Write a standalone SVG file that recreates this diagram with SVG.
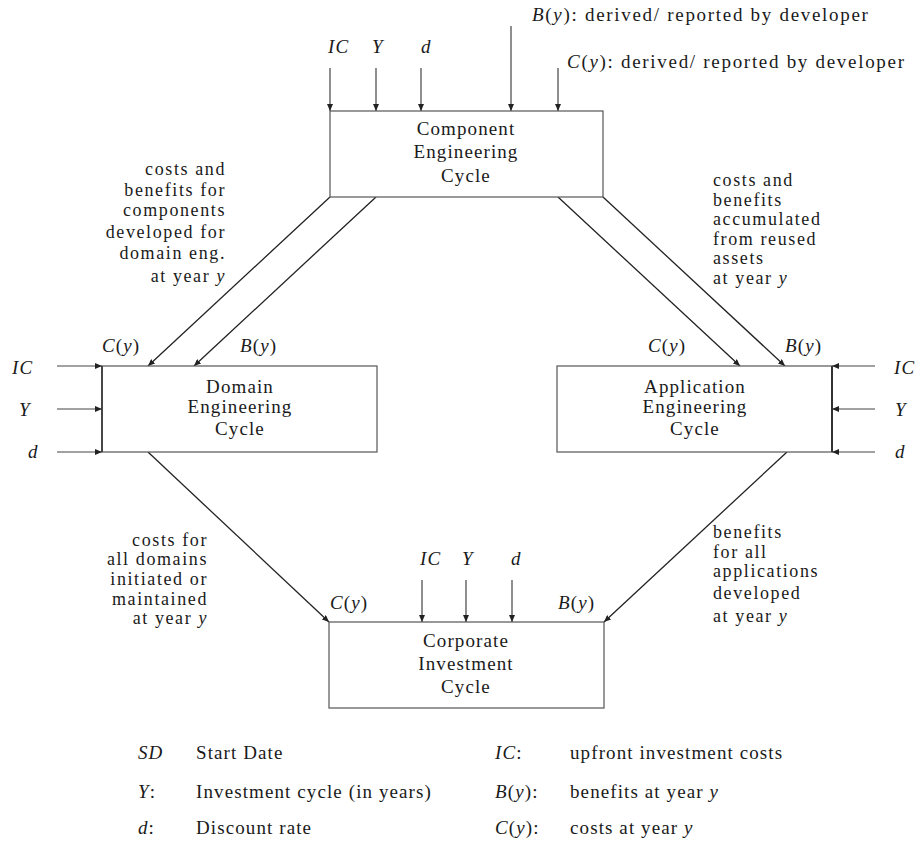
<svg xmlns="http://www.w3.org/2000/svg" width="922" height="841" viewBox="0 0 922 841">
  <defs>
    <marker id="arr" viewBox="0 0 7 6" refX="7" refY="3" markerWidth="7" markerHeight="6" markerUnits="userSpaceOnUse" orient="auto">
      <path d="M0,0 L7,3 L0,6 z" fill="#222"/>
    </marker>
    <style>
      text { font-family: "Liberation Serif", "Times New Roman", serif; font-size: 19px; letter-spacing: 1.1px; fill: #1a1a1a; }
      .n { font-size: 18px; letter-spacing: 1.6px; }
      .w { letter-spacing: 1.7px; }
      .m { font-style: italic; }
      .c { text-anchor: middle; }
      .e { text-anchor: end; }
      .box { fill: #fff; stroke: #555; stroke-width: 1.2; }
      .ln { stroke: #222; stroke-width: 1.3; fill: none; marker-end: url(#arr); }
      .in { stroke: #444; stroke-width: 1.2; fill: none; marker-end: url(#arr); }
    </style>
  </defs>

  <!-- connectors -->
  <g id="connectors">
    <!-- component cycle to domain / application cycles -->
    <line class="ln" x1="330" y1="197" x2="148" y2="366"/>
    <line class="ln" x1="376" y1="197" x2="194" y2="366"/>
    <line class="ln" x1="558" y1="197" x2="740" y2="366"/>
    <line class="ln" x1="603" y1="197" x2="785" y2="366"/>
    <!-- domain / application cycles to corporate cycle -->
    <line class="ln" x1="148" y1="452" x2="329" y2="622"/>
    <line class="ln" x1="787" y1="452" x2="604" y2="622"/>
    <!-- inputs of component cycle -->
    <line class="in" x1="330" y1="68" x2="330" y2="111"/>
    <line class="in" x1="376" y1="68" x2="376" y2="111"/>
    <line class="in" x1="421" y1="68" x2="421" y2="111"/>
    <line class="in" x1="511" y1="26" x2="511" y2="111"/>
    <line class="in" x1="558" y1="68" x2="558" y2="111"/>
    <!-- inputs of domain cycle -->
    <line class="in" x1="57" y1="366" x2="102" y2="366"/>
    <line class="in" x1="57" y1="409" x2="102" y2="409"/>
    <line class="in" x1="57" y1="452" x2="102" y2="452"/>
    <!-- inputs of application cycle -->
    <line class="in" x1="875" y1="366" x2="832" y2="366"/>
    <line class="in" x1="875" y1="409" x2="832" y2="409"/>
    <line class="in" x1="875" y1="452" x2="832" y2="452"/>
    <!-- inputs of corporate cycle -->
    <line class="in" x1="422" y1="580" x2="422" y2="622"/>
    <line class="in" x1="466" y1="580" x2="466" y2="622"/>
    <line class="in" x1="512" y1="580" x2="512" y2="622"/>
  </g>

  <!-- nodes -->
  <g id="component">
    <rect class="box" x="330" y="111" width="273" height="86"/>
    <text class="c" x="466" y="135">Component</text>
    <text class="c" x="466" y="158">Engineering</text>
    <text class="c" x="466" y="182">Cycle</text>
  </g>

  <g id="domain">
    <rect class="box" x="102" y="366" width="275" height="86"/>
    <line x1="102" y1="366" x2="102" y2="452" stroke="#333" stroke-width="1.6"/>
    <text class="c" x="240" y="393">Domain</text>
    <text class="c" x="240" y="413">Engineering</text>
    <text class="c" x="240" y="435">Cycle</text>
  </g>

  <g id="application">
    <rect class="box" x="557" y="366" width="275" height="86"/>
    <line x1="832" y1="366" x2="832" y2="452" stroke="#333" stroke-width="2"/>
    <text class="c" x="695" y="393">Application</text>
    <text class="c" x="695" y="413">Engineering</text>
    <text class="c" x="695" y="435">Cycle</text>
  </g>

  <g id="corporate">
    <rect class="box" x="329" y="622" width="275" height="86"/>
    <text class="c" x="466" y="647">Corporate</text>
    <text class="c" x="466" y="670">Investment</text>
    <text class="c" x="466" y="693">Cycle</text>
  </g>

  <!-- input labels, component cycle -->
  <g id="labels-component">
    <text class="m" x="328" y="53">IC</text>
    <text class="m" x="372" y="53">Y</text>
    <text class="m" x="421" y="53">d</text>
    <text class="w" x="532" y="21"><tspan class="m">B</tspan>(<tspan class="m">y</tspan>): derived/ reported by developer</text>
    <text class="w" x="567" y="68"><tspan class="m">C</tspan>(<tspan class="m">y</tspan>): derived/ reported by developer</text>
  </g>

  <!-- flow descriptions -->
  <g id="notes">
    <text class="n e" x="226" y="175">costs and</text>
    <text class="n e" x="226" y="196">benefits for</text>
    <text class="n e" x="226" y="216">components</text>
    <text class="n e" x="226" y="238">developed for</text>
    <text class="n e" x="226" y="259">domain eng.</text>
    <text class="n e" x="226" y="282">at year <tspan class="m">y</tspan></text>

    <text class="n" x="713" y="186">costs and</text>
    <text class="n" x="713" y="205.5">benefits</text>
    <text class="n" x="713" y="225">accumulated</text>
    <text class="n" x="713" y="244.5">from reused</text>
    <text class="n" x="713" y="264">assets</text>
    <text class="n" x="713" y="283.5">at year <tspan class="m">y</tspan></text>

    <text class="n e" x="208" y="546">costs for</text>
    <text class="n e" x="208" y="565">all domains</text>
    <text class="n e" x="208" y="585">initiated or</text>
    <text class="n e" x="208" y="604.5">maintained</text>
    <text class="n e" x="208" y="624">at year <tspan class="m">y</tspan></text>

    <text class="n" x="713" y="538">benefits</text>
    <text class="n" x="713" y="557.5">for all</text>
    <text class="n" x="713" y="577">applications</text>
    <text class="n" x="713" y="599">developed</text>
    <text class="n" x="713" y="622">at year <tspan class="m">y</tspan></text>
  </g>

  <!-- flow variable labels -->
  <g id="labels-flows">
    <text x="102" y="352"><tspan class="m">C</tspan>(<tspan class="m">y</tspan>)</text>
    <text x="240" y="352"><tspan class="m">B</tspan>(<tspan class="m">y</tspan>)</text>
    <text x="648" y="352"><tspan class="m">C</tspan>(<tspan class="m">y</tspan>)</text>
    <text x="785" y="352"><tspan class="m">B</tspan>(<tspan class="m">y</tspan>)</text>
    <text x="330" y="609"><tspan class="m">C</tspan>(<tspan class="m">y</tspan>)</text>
    <text x="558" y="609"><tspan class="m">B</tspan>(<tspan class="m">y</tspan>)</text>
  </g>

  <!-- input labels, domain / application / corporate cycles -->
  <g id="labels-inputs">
    <text class="m" x="12" y="374">IC</text>
    <text class="m" x="19" y="416">Y</text>
    <text class="m" x="28" y="458">d</text>
    <text class="m" x="894" y="374">IC</text>
    <text class="m" x="895" y="416">Y</text>
    <text class="m" x="895" y="458">d</text>
    <text class="m" x="420" y="565">IC</text>
    <text class="m" x="462" y="565">Y</text>
    <text class="m" x="511" y="565">d</text>
  </g>

  <!-- legend -->
  <g id="legend">
    <text class="m" x="138" y="759">SD</text>
    <text x="196" y="759">Start Date</text>
    <text x="138" y="798"><tspan class="m">Y</tspan>:</text>
    <text x="196" y="798">Investment cycle (in years)</text>
    <text x="138" y="834"><tspan class="m">d</tspan>:</text>
    <text x="196" y="834">Discount rate</text>
    <text x="495" y="759"><tspan class="m">IC</tspan>:</text>
    <text x="570" y="759">upfront investment costs</text>
    <text x="495" y="798"><tspan class="m">B</tspan>(<tspan class="m">y</tspan>):</text>
    <text x="570" y="798">benefits at year <tspan class="m">y</tspan></text>
    <text x="495" y="834"><tspan class="m">C</tspan>(<tspan class="m">y</tspan>):</text>
    <text x="570" y="834">costs at year <tspan class="m">y</tspan></text>
  </g>
</svg>
